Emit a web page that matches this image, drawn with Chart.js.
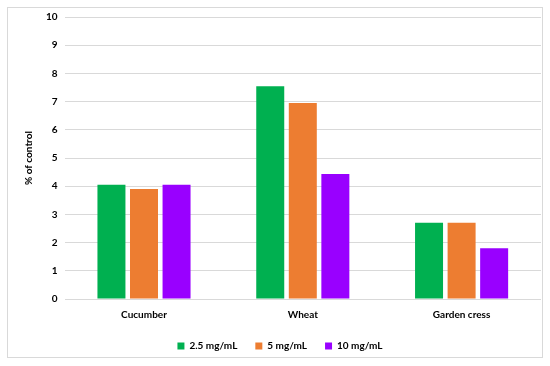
<!DOCTYPE html>
<html><head><meta charset="utf-8">
<script src="https://cdn.jsdelivr.net/npm/chart.js@4/dist/chart.umd.min.js"></script>
<style>
html,body{margin:0;padding:0;background:#fff;}
#frame{position:absolute;left:7px;top:7px;width:536px;height:351px;border:1px solid #d9d9d9;box-sizing:border-box;}
#wrap{position:absolute;left:7px;top:4px;width:536px;height:357px;}
canvas{display:block;}
</style></head>
<body>
<div id="frame"></div>
<div id="wrap"><canvas id="c"></canvas></div>
<script>
const categories = ["Cucumber", "Wheat", "Garden cress"];
const seriesNames = ["2.5 mg/mL", "5 mg/mL", "10 mg/mL"];
const series25 = [4.05, 7.54, 2.70];
const series5 = [3.90, 6.95, 2.70];
const series10 = [4.05, 4.43, 1.80];
const colors = ["#00b050", "#ed7d31", "#9900ff"];
const yTicks = [0,1,2,3,4,5,6,7,8,9,10];

const font = {family: "Lato, 'Liberation Sans', sans-serif", weight: "bold", size: 10};
new Chart(document.getElementById('c'), {
  type: 'bar',
  data: {
    labels: categories,
    datasets: [series25, series5, series10].map((d, i) => ({
      label: seriesNames[i], data: d, backgroundColor: colors[i],
      categoryPercentage: 0.615, barPercentage: 0.86
    }))
  },
  options: {
    responsive: true, maintainAspectRatio: false, animation: false,
    layout: {padding: {left: 12, right: 2, top: 3, bottom: 0}},
    plugins: {
      legend: {position: 'bottom', labels: {boxWidth: 7, boxHeight: 7, font: font, color: '#000', padding: 18}},
      tooltip: {enabled: false}
    },
    scales: {
      x: {grid: {display: false}, border: {display: false},
          ticks: {font: font, color: '#000', padding: 2}},
      y: {min: 0, max: 10, afterBuildTicks: s => { s.ticks = yTicks.map(v => ({value: v})); },
          grid: {color: '#d9d9d9', drawTicks: false}, border: {display: false},
          ticks: {font: font, color: '#000', padding: 7},
          title: {display: true, text: '% of control', font: font, color: '#000', padding: 4}}
    }
  }
});
</script>
</body></html>
